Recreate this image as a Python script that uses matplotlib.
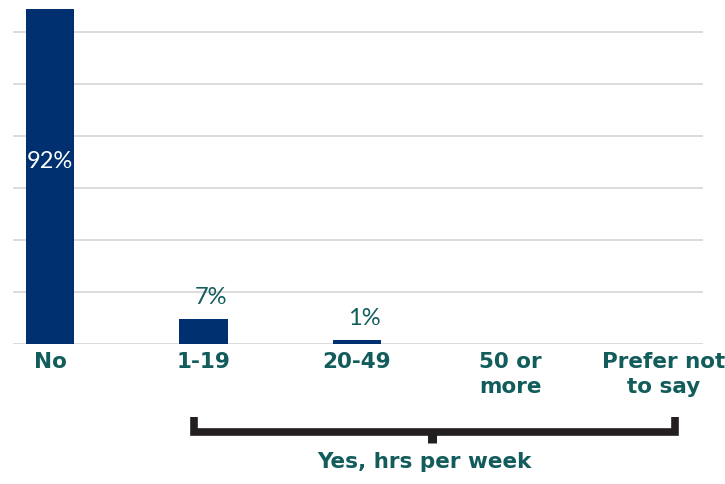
import matplotlib
matplotlib.use("Agg")
import matplotlib.pyplot as plt
import matplotlib.transforms as mtransforms
import numpy as np

# data
categories = ["No", "1-19", "20-49", "50 or\nmore", "Prefer not\nto say"]
values = [92, 7, 1, 0, 0]
value_labels = ["92%", "7%", "1%", "", ""]

navy = "#00306f"
teal = "#135c5c"
grid_col = "#d9d9d9"

fig = plt.figure(figsize=(7.25, 4.84), dpi=100)
# axes top sits above the figure edge (chart is cropped at the top)
ax = fig.add_axes([13/725, 140/484, 690/725, 364/484])

x = np.arange(len(categories))
ax.bar(x, values, width=0.313, color=navy, zorder=3)

ax.set_ylim(0, 100)
ax.set_xlim(-0.241, 4.254)
ax.set_yticks(np.arange(0, 100.1, 100/7))
ax.yaxis.grid(True, color=grid_col, linewidth=1.3, zorder=0)
ax.tick_params(axis="y", length=0, labelleft=False)
for sp in ax.spines.values():
    sp.set_visible(False)

ax.set_xticks(x)
ax.set_xticklabels(categories, fontsize=15.5, fontweight="bold", color=teal,
                   family="DejaVu Sans", linespacing=1.3, va="top")
ax.tick_params(axis="x", length=0, pad=6)
for lbl in ax.get_xticklabels():
    lbl.set_multialignment("center")

# value labels
for i, (v, t) in enumerate(zip(values, value_labels)):
    if not t:
        continue
    if v > 50:
        ax.text(i, 50, t, ha="center", va="center", color="white",
                fontsize=17, family="Lato", zorder=4)
    else:
        ax.text(i + 0.05, v + 3, t, ha="center", va="bottom", color=teal,
                fontsize=17, family="Lato", zorder=4)

# bracket under the "Yes" groups
tr = mtransforms.blended_transform_factory(ax.transData, fig.transFigure)
left, right, mid = 0.94, 4.07, 2.49
y_top, y_bar, y_tick = 0.138, 0.107, 0.084
ax.plot([left, left, right, right], [y_top, y_bar, y_bar, y_top], transform=tr,
        color="#231f20", linewidth=5.5, clip_on=False, solid_joinstyle="miter",
        solid_capstyle="butt")
ax.plot([mid, mid], [y_bar, y_tick], transform=tr, color="#231f20",
        linewidth=6.5, clip_on=False, solid_capstyle="butt")
ax.text(mid - 0.05, 0.045, "Yes, hrs per week", transform=tr, ha="center",
        va="center", fontsize=15.5, fontweight="bold", color=teal,
        family="DejaVu Sans")

fig.savefig("out.png", dpi=100)
